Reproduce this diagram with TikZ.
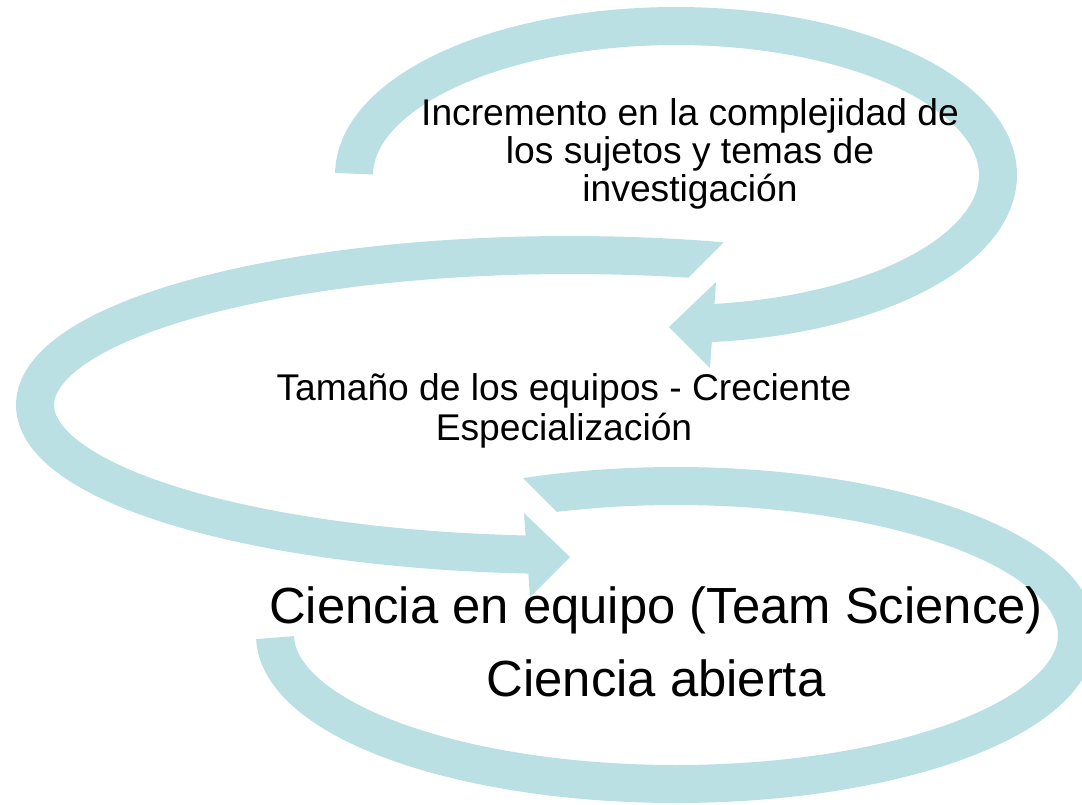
\documentclass[tikz,border=0pt]{standalone}
\usepackage{fontspec}
\setmainfont{Liberation Sans}
\definecolor{band}{HTML}{BBE0E3}
\begin{document}
\begin{tikzpicture}[x=1pt,y=-1pt,
  bandline/.style={draw=band, line width=38pt, line cap=butt},
  headfill/.style={fill=band},
  lbl/.style={align=center, inner sep=0pt, text=black}]
\useasboundingbox (0,0) rectangle (1082,804);
% top arrow
\draw[bandline] plot[domain=180.5:444.5, samples=160, smooth] ({676+322*cos(\x)},{175+149*sin(\x)});
\fill[headfill] (716,282) -- (669,327) -- (710,368) -- cycle;
% middle arrow
\begin{scope}
\clip (-100,-100) -- (1066,-100) -- (650,316) -- (650,900) -- (-100,900) -- cycle;
\draw[bandline] plot[domain=290:93.5, samples=160, smooth] ({570+535*cos(\x)},{405+150*sin(\x)});
\end{scope}
\fill[headfill] (524,513) -- (570,557) -- (530,597) -- cycle;
% bottom arrow
\begin{scope}
\clip (470,425) -- (1200,425) -- (1200,900) -- (-100,900) -- (-100,600) -- (600,555) -- cycle;
\draw[bandline] plot[domain=245:539, samples=160, smooth] ({676+401*cos(\x)},{635+149*sin(\x)});
\end{scope}
% labels
\node[lbl, font=\fontsize{37.2}{38}\selectfont] (t1) at (690,154) {Incremento en la complejidad de\\los sujetos y temas de\\investigación};
\node[lbl, font=\fontsize{37.2}{40}\selectfont] (t2) at (564,411) {Tamaño de los equipos - Creciente\\Especialización};
\node[lbl, font=\fontsize{50.8}{73}\selectfont] (t3) at (656,642) {Ciencia en equipo (Team Science)\\Ciencia abierta};
\end{tikzpicture}
\end{document}
